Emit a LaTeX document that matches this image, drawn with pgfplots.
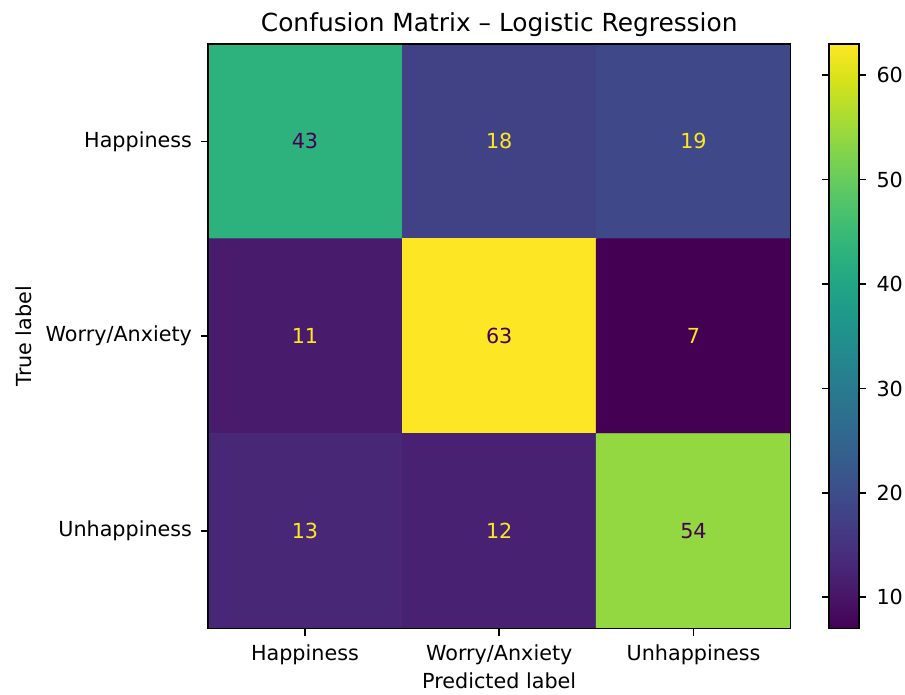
\documentclass[border=0pt]{standalone}
\usepackage{pgfplots}
\pgfplotsset{compat=1.18}
\usepackage{fontspec}
\setmainfont{DejaVu Sans}
\definecolor{vdark}{HTML}{440154}
\definecolor{vyell}{HTML}{FDE725}

\begin{document}
\begin{tikzpicture}
\begin{axis}[
    at={(0,0)}, anchor=south west,
    scale only axis,
    width=281.3pt, height=282.2pt,
    xmin=-0.5, xmax=2.5, ymin=-0.5, ymax=2.5,
    y dir=reverse,
    xtick={0,1,2}, ytick={0,1,2},
    xticklabels={Happiness, Worry/Anxiety, Unhappiness},
    yticklabels={Happiness, Worry/Anxiety, Unhappiness},
    tick pos=left,
    tick align=outside,
    major tick length=3.5pt,
    every tick/.style={black, line width=0.8pt},
    axis line style={line width=0.8pt},
    tick label style={font=\fontsize{10}{12}\selectfont},
    xticklabel style={yshift=-0.6pt},
    yticklabel style={xshift=-0.6pt},
    label style={font=\fontsize{10}{12}\selectfont},
    xlabel style={yshift=3pt},
    xlabel={Predicted label}, ylabel={True label},
    title={Confusion Matrix – Logistic Regression},
    title style={font=\fontsize{12}{14}\selectfont, yshift=-5.8pt},
    colormap name=viridis,
    point meta min=7, point meta max=63,
    colorbar,
    colorbar style={
        at={(parent axis.north east)}, anchor=north west,
        xshift=10pt,
        scale only axis,
        width=14.4pt, height=282.2pt,
        ytick={10,20,30,40,50,60},
        tick align=outside,
        major tick length=3.5pt,
        every tick/.style={black, line width=0.8pt},
        axis line style={line width=0.8pt},
        yticklabel style={font=\fontsize{10}{12}\selectfont, xshift=1.5pt,
            /pgf/number format/assume math mode=true},
    },
    axis on top,
]
\addplot[matrix plot*, mesh/cols=3, point meta=explicit] table[meta=c] {
x y c
0 0 43
1 0 18
2 0 19
0 1 11
1 1 63
2 1 7
0 2 13
1 2 12
2 2 54
};
% light text on dark cells
\addplot[only marks, mark=*, mark size=0pt, mark options={draw=none, fill=none},
    nodes near coords, point meta=explicit symbolic,
    every node near coord/.style={anchor=center, text=vyell, font=\fontsize{10}{12}\selectfont}]
    table[meta=c] {
x y c
1 0 18
2 0 19
0 1 11
2 1 7
0 2 13
1 2 12
};
% dark text on bright cells
\addplot[only marks, mark=*, mark size=0pt, mark options={draw=none, fill=none},
    nodes near coords, point meta=explicit symbolic,
    every node near coord/.style={anchor=center, text=vdark, font=\fontsize{10}{12}\selectfont}]
    table[meta=c] {
x y c
0 0 43
1 1 63
2 2 54
};
\end{axis}
\pgfresetboundingbox
\useasboundingbox (-100.3pt,-31.7pt) rectangle (336.5pt,303.4pt);
\end{tikzpicture}
\end{document}
